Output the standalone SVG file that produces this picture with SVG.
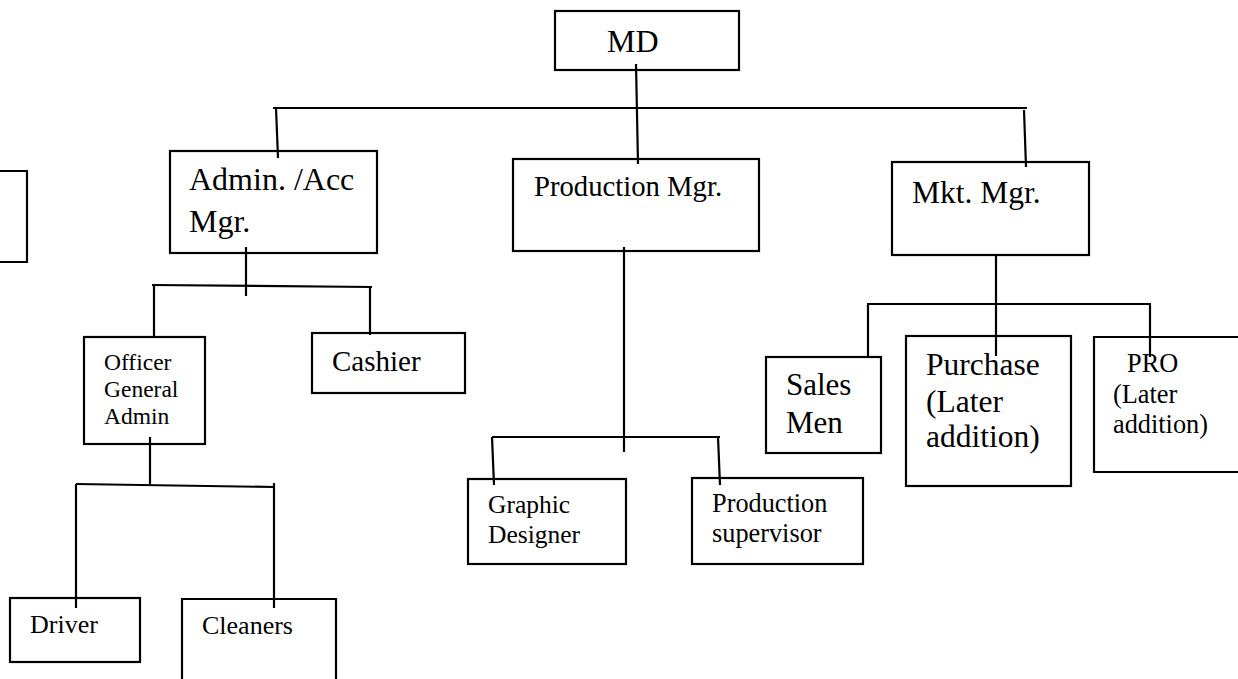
<svg xmlns="http://www.w3.org/2000/svg" width="1238" height="679" viewBox="0 0 1238 679">
<style>
.box{fill:none;stroke:#000;stroke-width:2.2}
.ln{fill:none;stroke:#000;stroke-width:2.2}
text{font-family:"Liberation Serif","Times New Roman",serif;fill:#000}
</style>
<rect width="1238" height="679" fill="#fff"/>
<g id="connectors">
<path class="ln" d="M273 108 L1027 108"/>
<path class="ln" d="M636 64 L638 164"/>
<path class="ln" d="M276 108 L278 158"/>
<path class="ln" d="M1024 110 L1026 167"/>
<path class="ln" d="M246 247 L246 296"/>
<path class="ln" d="M152 285 L372 287"/>
<path class="ln" d="M154 285 L154 337"/>
<path class="ln" d="M370 287 L370 335"/>
<path class="ln" d="M150 437 L150 484"/>
<path class="ln" d="M76 484 L274 487"/>
<path class="ln" d="M76 484 L76 608"/>
<path class="ln" d="M274 483 L274 608"/>
<path class="ln" d="M624 247 L624 452"/>
<path class="ln" d="M492 437 L720 437"/>
<path class="ln" d="M492 437 L494 485"/>
<path class="ln" d="M718 437 L720 485"/>
<path class="ln" d="M996 255 L996 305"/>
<path class="ln" d="M867 304 L1151 304"/>
<path class="ln" d="M868 305 L868 357"/>
<path class="ln" d="M996 305 L996 356"/>
<path class="ln" d="M1150 305 L1150 357"/>
</g>
<g id="md"><rect class="box" x="555" y="11" width="184" height="59"/><text x="607" y="52" font-size="32">MD</text></g>
<g id="left-box"><path class="box" d="M-2 171 L27 171 L27 262 L-2 262"/></g>
<g id="admin"><rect class="box" x="170" y="151" width="207" height="102"/><text x="189" y="190" font-size="32">Admin. /Acc</text><text x="189" y="232" font-size="32">Mgr.</text></g>
<g id="production"><rect class="box" x="513" y="159" width="246" height="92"/><text x="534" y="196" font-size="28.7">Production Mgr.</text></g>
<g id="mkt"><rect class="box" x="892" y="162" width="197" height="93"/><text x="912" y="203" font-size="31.5">Mkt. Mgr.</text></g>
<g id="officer"><rect class="box" x="84" y="337" width="121" height="107"/><text font-size="23.5"><tspan x="104" y="370">Officer</tspan><tspan x="104" y="397">General</tspan><tspan x="104" y="424">Admin</tspan></text></g>
<g id="cashier"><rect class="box" x="312" y="333" width="153" height="60"/><text x="332" y="371" font-size="29">Cashier</text></g>
<g id="driver"><rect class="box" x="10" y="598" width="130" height="64"/><text x="30" y="633" font-size="26">Driver</text></g>
<g id="cleaners"><path class="box" d="M182 690 L182 599 L336 599 L336 690"/><text x="202" y="634" font-size="26">Cleaners</text></g>
<g id="graphic"><rect class="box" x="468" y="479" width="158" height="85"/><text font-size="25.5"><tspan x="488" y="513">Graphic</tspan><tspan x="488" y="543">Designer</tspan></text></g>
<g id="supervisor"><rect class="box" x="692" y="478" width="171" height="86"/><text font-size="26.3"><tspan x="712" y="512">Production</tspan><tspan x="712" y="542">supervisor</tspan></text></g>
<g id="sales"><rect class="box" x="766" y="357" width="115" height="96"/><text font-size="31"><tspan x="786" y="395">Sales</tspan><tspan x="786" y="433">Men</tspan></text></g>
<g id="purchase"><rect class="box" x="906" y="336" width="165" height="150"/><text font-size="31.5"><tspan x="926" y="375">Purchase</tspan><tspan x="926" y="412">(Later</tspan><tspan x="926" y="447">addition)</tspan></text></g>
<g id="pro"><path class="box" d="M1245 337 L1094 337 L1094 472 L1245 472"/><text font-size="26.3"><tspan x="1127" y="372">PRO</tspan><tspan x="1113" y="403">(Later</tspan><tspan x="1113" y="433">addition)</tspan></text></g>
</svg>
